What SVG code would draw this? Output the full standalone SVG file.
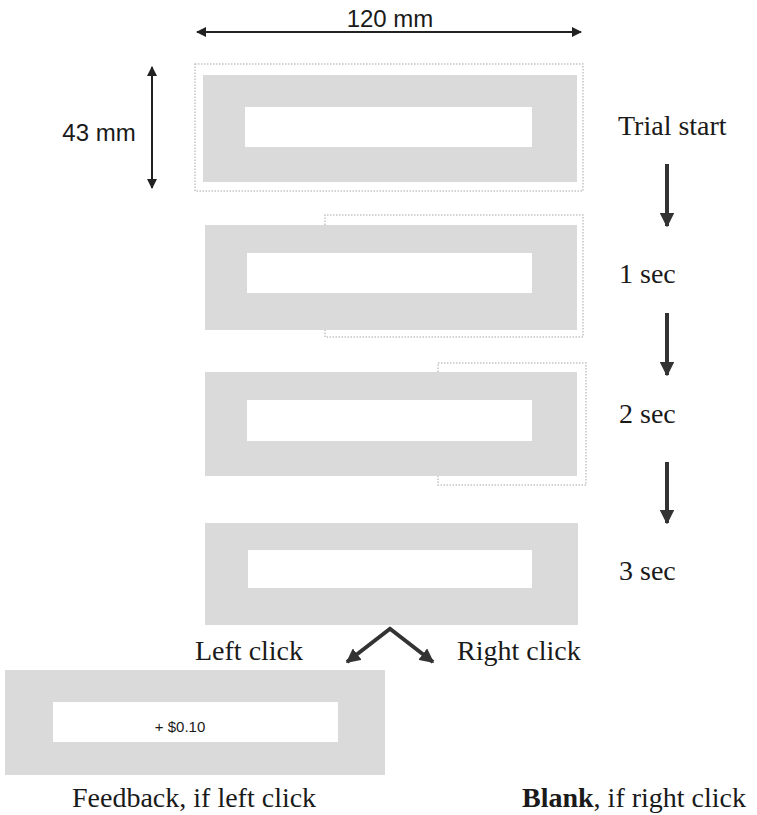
<svg xmlns="http://www.w3.org/2000/svg" width="757" height="815" viewBox="0 0 757 815">
<style>
.scr{fill:#dadada}
.win{fill:#ffffff}
.outl{fill:none;stroke:#c4c4c4;stroke-width:1.5;stroke-dasharray:1.5 1.5}
.serif{font-family:"Liberation Serif","Times New Roman",serif;font-size:28px;fill:#1a1a1a}
.sans{font-family:"Liberation Sans",Arial,sans-serif;fill:#1a1a1a}
.dim{stroke:#222;stroke-width:2;fill:none}
.flow{stroke:#333;stroke-width:4;fill:none}
</style>
<defs>
<marker id="dimhead" viewBox="0 0 10 10" refX="9" refY="5" markerWidth="5" markerHeight="5" orient="auto-start-reverse">
<path d="M0,0 L10,5 L0,10 z" fill="#222"/>
</marker>
<marker id="flowhead" viewBox="0 0 10 10" refX="9" refY="5" markerWidth="3.6" markerHeight="3.6" orient="auto">
<path d="M0,0 L10,5 L0,10 z" fill="#333"/>
</marker>
</defs>
<rect width="757" height="815" fill="#ffffff"/>

<g id="dimensions">
<line class="dim" x1="197" y1="32" x2="581" y2="32" marker-start="url(#dimhead)" marker-end="url(#dimhead)"/>
<text class="sans" x="390" y="27" font-size="24" text-anchor="middle">120 mm</text>
<line class="dim" x1="152" y1="67" x2="152" y2="188" marker-start="url(#dimhead)" marker-end="url(#dimhead)"/>
<text class="sans" x="99" y="141" font-size="24" text-anchor="middle">43 mm</text>
</g>

<g id="screen-trial-start">
<rect class="outl" x="195" y="64" width="388" height="127"/>
<rect class="scr" x="203" y="75" width="374" height="107"/>
<rect class="win" x="245" y="107" width="287" height="40"/>
<text class="serif" x="618" y="135">Trial start</text>
</g>

<g id="screen-1sec">
<path class="outl" d="M325,225 V215 H583 V337 H325 V330"/>
<rect class="scr" x="205" y="225" width="372" height="105"/>
<rect class="win" x="247" y="253" width="285" height="40"/>
<text class="serif" x="619" y="283">1 sec</text>
</g>

<g id="screen-2sec">
<path class="outl" d="M438,372 V363 H586 V485 H438 V476"/>
<rect class="scr" x="205" y="372" width="372" height="104"/>
<rect class="win" x="247" y="400" width="285" height="41"/>
<text class="serif" x="619" y="423">2 sec</text>
</g>

<g id="screen-3sec">
<rect class="scr" x="205" y="523" width="373" height="102"/>
<rect class="win" x="248" y="550" width="284" height="38"/>
<text class="serif" x="619" y="580">3 sec</text>
</g>

<g id="screen-feedback">
<rect class="scr" x="5" y="670" width="380" height="105"/>
<rect class="win" x="53" y="702" width="285" height="40"/>
<text class="sans" x="180" y="732" font-size="15" text-anchor="middle">+ $0.10</text>
<text class="serif" x="72" y="807">Feedback, if left click</text>
</g>

<g id="screen-blank">
<text class="serif" x="522" y="807"><tspan font-weight="bold">Blank</tspan>, if right click</text>
</g>

<g id="labels">
<text class="serif" x="195" y="660">Left click</text>
<text class="serif" x="457" y="660">Right click</text>
</g>

<g id="connectors">
<line class="flow" x1="667" y1="164" x2="667" y2="226" marker-end="url(#flowhead)"/>
<line class="flow" x1="667" y1="313" x2="667" y2="375" marker-end="url(#flowhead)"/>
<line class="flow" x1="667" y1="462" x2="667" y2="523" marker-end="url(#flowhead)"/>
<line class="flow" x1="391" y1="628" x2="347" y2="662" marker-end="url(#flowhead)"/>
<line class="flow" x1="389" y1="628" x2="433" y2="662" marker-end="url(#flowhead)"/>
</g>
</svg>
